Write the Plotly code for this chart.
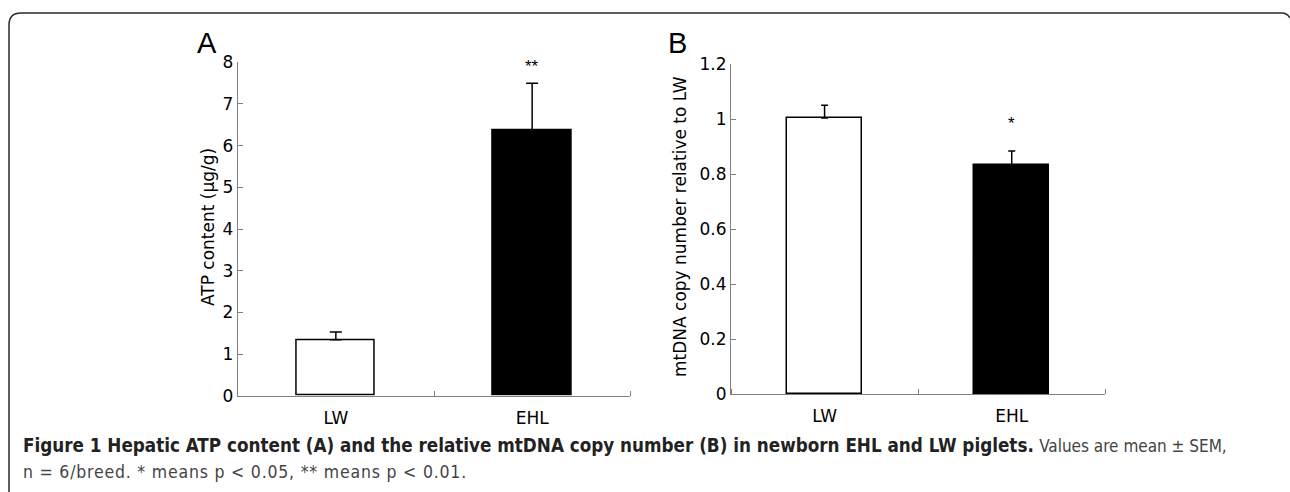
import plotly.graph_objects as go

categories = ["LW", "EHL"]
atp_mean = [1.34, 6.36]
atp_sem = [0.19, 1.14]
mt_mean = [1.004, 0.832]
mt_sem = [0.046, 0.052]
atp_sig = ["", "**"]
mt_sig = ["", "*"]
atp_ticks = [0, 1, 2, 3, 4, 5, 6, 7, 8]
mt_ticks = [0, 0.2, 0.4, 0.6, 0.8, 1, 1.2]

W, H = 1290, 492
FONT = "DejaVu Sans, Liberation Sans, sans-serif"
LFONT = "Liberation Sans, Arial, sans-serif"
CAP_FONT = "Liberation Sans Narrow, DejaVu Sans Condensed, sans-serif"
AXC = "#808080"

def px(x):
    return x / W

def py(y):
    return 1 - y / H

xpos = list(range(len(categories)))
fill = ["white", "black"]

fig = go.Figure()
fig.add_trace(go.Bar(
    x=xpos, y=atp_mean, width=0.4, xaxis="x", yaxis="y",
    marker=dict(color=fill, line=dict(color="black", width=1.5)),
    error_y=dict(type="data", array=atp_sem, arrayminus=[0] * len(atp_sem), symmetric=False,
                 color="black", thickness=1.5, width=6),
    showlegend=False, hoverinfo="skip"))
fig.add_trace(go.Bar(
    x=xpos, y=mt_mean, width=0.4, xaxis="x2", yaxis="y2",
    marker=dict(color=fill, line=dict(color="black", width=1.5)),
    error_y=dict(type="data", array=mt_sem, arrayminus=[0] * len(mt_sem), symmetric=False,
                 color="black", thickness=1.5, width=3.5),
    showlegend=False, hoverinfo="skip"))

xcommon = dict(range=[-0.5, 1.5], showline=True, linecolor=AXC, linewidth=1,
               showgrid=False, zeroline=False, tickmode="array", tickvals=xpos,
               ticktext=categories, ticks="", ticklabelstandoff=7, automargin=False,
               tickfont=dict(family=FONT, size=17, color="black"),
               minor=dict(tickmode="array", tickvals=[-0.5, 0.5, 1.5], ticks="inside",
                          ticklen=5, tickcolor=AXC, tickwidth=1, showgrid=False),
               fixedrange=True)
ycommon = dict(showline=True, linecolor=AXC, linewidth=1, showgrid=False, zeroline=False,
               ticks="inside", ticklen=5, tickcolor=AXC, tickwidth=1, tickmode="array",
               automargin=False,
               tickfont=dict(family=FONT, size=17, color="black"), fixedrange=True)

fig.update_layout(
    width=W, height=H, margin=dict(l=0, r=0, t=0, b=0, pad=0, autoexpand=False),
    paper_bgcolor="white", plot_bgcolor="rgba(0,0,0,0)", bargap=0,
    xaxis=dict(domain=[px(237.7), px(630.3)], anchor="y", **xcommon),
    yaxis=dict(domain=[py(395.7), py(62.3)], anchor="x", range=[0, 8], tickvals=atp_ticks, **ycommon),
    xaxis2=dict(domain=[px(731), px(1105.3)], anchor="y2", **xcommon),
    yaxis2=dict(domain=[py(394), py(64)], anchor="x2", range=[0, 1.2], tickvals=mt_ticks, **ycommon),
)

ann = []
C = dict(xanchor="center", yanchor="middle", showarrow=False)
# significance marks
for i, s in enumerate(atp_sig):
    if s:
        ann.append(dict(x=xpos[i], y=7.9, xref="x", yref="y", text=s,
                        font=dict(family=LFONT, size=17, color="black"), **C))
for i, s in enumerate(mt_sig):
    if s:
        ann.append(dict(x=xpos[i], y=0.985, xref="x2", yref="y2", text=s,
                        font=dict(family=LFONT, size=17, color="black"), **C))
# axis titles
ann.append(dict(x=px(208), y=py(227), xref="paper", yref="paper", text="ATP content (μg/g)",
                textangle=-90, font=dict(family=FONT, size=17, color="black"), **C))
ann.append(dict(x=px(680), y=py(227), xref="paper", yref="paper", text="mtDNA copy number relative to LW",
                textangle=-90, font=dict(family=FONT, size=17, color="black"), **C))
# panel letters
ann.append(dict(x=px(207), y=py(43), xref="paper", yref="paper", text="A",
                font=dict(family=LFONT, size=29, color="black"), **C))
ann.append(dict(x=px(677), y=py(43), xref="paper", yref="paper", text="B",
                font=dict(family=LFONT, size=29, color="black"), **C))
# caption
ann.append(dict(x=px(21), y=py(445), xref="paper", yref="paper", xanchor="left", yanchor="middle",
                showarrow=False, align="left",
                text="<b>Figure 1 Hepatic ATP content (A) and the relative mtDNA copy number (B) in newborn EHL and LW piglets.</b>"
                     " <span style='color:#444;font-size:17px'>Values are mean ± SEM,</span>",
                font=dict(family=CAP_FONT, size=18.7, color="#222")))
ann.append(dict(x=px(21), y=py(472), xref="paper", yref="paper", xanchor="left", yanchor="middle",
                showarrow=False, align="left",
                text="<span style='letter-spacing:0.8px'>n = 6/breed. * means p &lt; 0.05, ** means p &lt; 0.01.</span>",
                font=dict(family=CAP_FONT, size=17.5, color="#444")))
fig.update_layout(annotations=ann)

# figure frame with rounded top-left corner
path = (f"M {px(9)},{-0.02} L {px(9)},{py(25)} Q {px(9)},{py(13)} {px(21)},{py(13)} "
        f"L {px(1282)},{py(13)} Q {px(1287)},{py(13)} {px(1290)},{py(18)}")
fig.add_shape(type="path", path=path, xref="paper", yref="paper",
              line=dict(color="#2a2a2a", width=1.5))

post = (
    "document.body.style.margin='0';"
    "document.body.style.overflow='hidden';"
)
fig.write_html("out.html", config={"displayModeBar": False}, post_script=post)
